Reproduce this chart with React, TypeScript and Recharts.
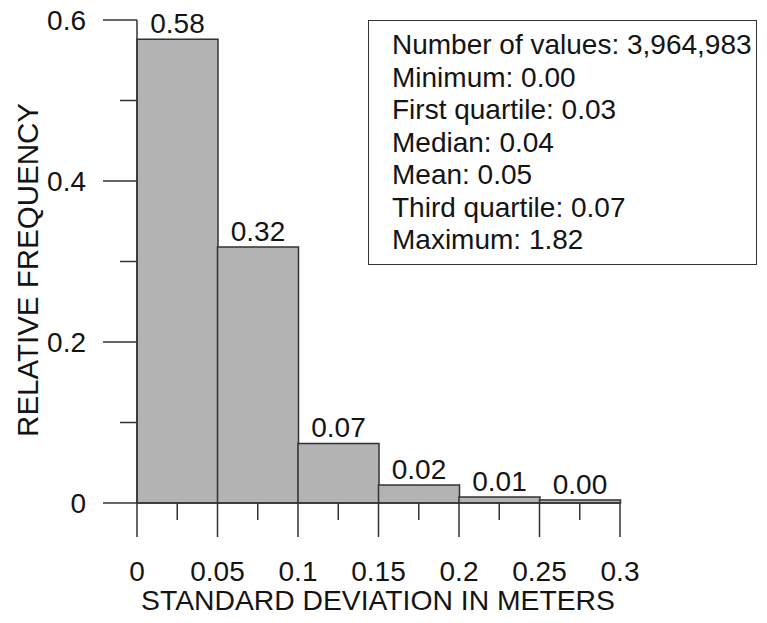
import React from 'react';
import { ComposedChart, Bar, XAxis, YAxis, LabelList } from 'recharts';

// histogram bins (lower edge), bin width and relative frequency per bin
const binStarts = [0, 0.05, 0.1, 0.15, 0.2, 0.25];
const binWidth = 0.05;
const frequencies = [0.576, 0.318, 0.074, 0.0224, 0.0075, 0.0037];

const xTicks = [0, 0.025, 0.05, 0.075, 0.1, 0.125, 0.15, 0.175, 0.2, 0.225, 0.25, 0.275, 0.3];
const xTickLabels = ['0', '', '0.05', '', '0.1', '', '0.15', '', '0.2', '', '0.25', '', '0.3'];
const yTicks = [0, 0.1, 0.2, 0.3, 0.4, 0.5, 0.6];
const yTickLabels = ['0', '', '0.2', '', '0.4', '', '0.6'];

const stats = [
    'Number of values: 3,964,983',
    'Minimum: 0.00',
    'First quartile: 0.03',
    'Median: 0.04',
    'Mean: 0.05',
    'Third quartile: 0.07',
    'Maximum: 1.82'
];

const data = binStarts.map((start, i) => ({ mid: start + binWidth / 2, freq: frequencies[i] }));

const FONT = '"Liberation Sans", Arial, sans-serif';
const INK = '#141414';
const LINE = '#333';

const XTick = (props: any) => {
    const { x, y, index } = props;
    const label = xTickLabels[index];
    const major = label !== '';
    return (
        <g>
            <line x1={x} y1={y} x2={x} y2={y + (major ? 34 : 17)} stroke={LINE} strokeWidth={1.5} />
            {major && (
                <text x={x} y={y + 78} textAnchor="middle" fontSize={28} fill={INK} fontFamily={FONT}>
                    {label}
                </text>
            )}
        </g>
    );
};

const YTick = (props: any) => {
    const { x, y, index } = props;
    const label = yTickLabels[index];
    const major = label !== '';
    return (
        <g>
            <line x1={x - (major ? 34 : 17)} y1={y} x2={x} y2={y} stroke={LINE} strokeWidth={1.5} />
            {major && (
                <text x={x - 51} y={y + 10} textAnchor="end" fontSize={28} fill={INK} fontFamily={FONT}>
                    {label}
                </text>
            )}
        </g>
    );
};

export default function App() {
    return (
        <div style={{ position: 'absolute', left: 0, top: 0, width: 767, height: 623, background: '#fff' }}>
            <ComposedChart
                width={767}
                height={623}
                data={data}
                margin={{ top: 20, right: 147, bottom: 0, left: 0 }}
                barCategoryGap={0}
                barGap={0}
            >
                <XAxis
                    dataKey="mid"
                    type="number"
                    domain={[0, 0.3]}
                    ticks={xTicks}
                    interval={0}
                    height={120}
                    tickSize={0}
                    tickMargin={0}
                    tickLine={false}
                    axisLine={{ stroke: LINE, strokeWidth: 1.5 }}
                    tick={<XTick />}
                    label={() => (
                        <text x={378} y={610} textAnchor="middle" fontSize={28.3} fill={INK} fontFamily={FONT}>
                            STANDARD DEVIATION IN METERS
                        </text>
                    )}
                />
                <YAxis
                    type="number"
                    domain={[0, 0.6]}
                    ticks={yTicks}
                    interval={0}
                    width={137}
                    tickSize={0}
                    tickMargin={0}
                    tickLine={false}
                    axisLine={{ stroke: LINE, strokeWidth: 1.5 }}
                    tick={<YTick />}
                    label={() => (
                        <text
                            x={38}
                            y={270}
                            transform="rotate(-90 38 270)"
                            textAnchor="middle"
                            fontSize={29.5}
                            fill={INK}
                            fontFamily={FONT}
                        >
                            RELATIVE FREQUENCY
                        </text>
                    )}
                />
                <Bar dataKey="freq" fill="#b3b3b3" stroke={LINE} strokeWidth={1.5} isAnimationActive={false}>
                    <LabelList
                        dataKey="freq"
                        position="top"
                        offset={6}
                        formatter={(v: any) => Number(v).toFixed(2)}
                        style={{ fontSize: 28, fill: INK, fontFamily: FONT }}
                    />
                </Bar>
            </ComposedChart>
            <div
                style={{
                    position: 'absolute',
                    left: 368,
                    top: 20,
                    width: 389,
                    height: 245,
                    boxSizing: 'border-box',
                    border: `1.5px solid ${LINE}`,
                    background: '#fff',
                    padding: '8px 0 0 23px',
                    fontFamily: FONT,
                    fontSize: 28,
                    lineHeight: '32.5px',
                    color: INK,
                    whiteSpace: 'nowrap'
                }}
            >
                {stats.map((s) => (
                    <div key={s}>{s}</div>
                ))}
            </div>
        </div>
    );
}
